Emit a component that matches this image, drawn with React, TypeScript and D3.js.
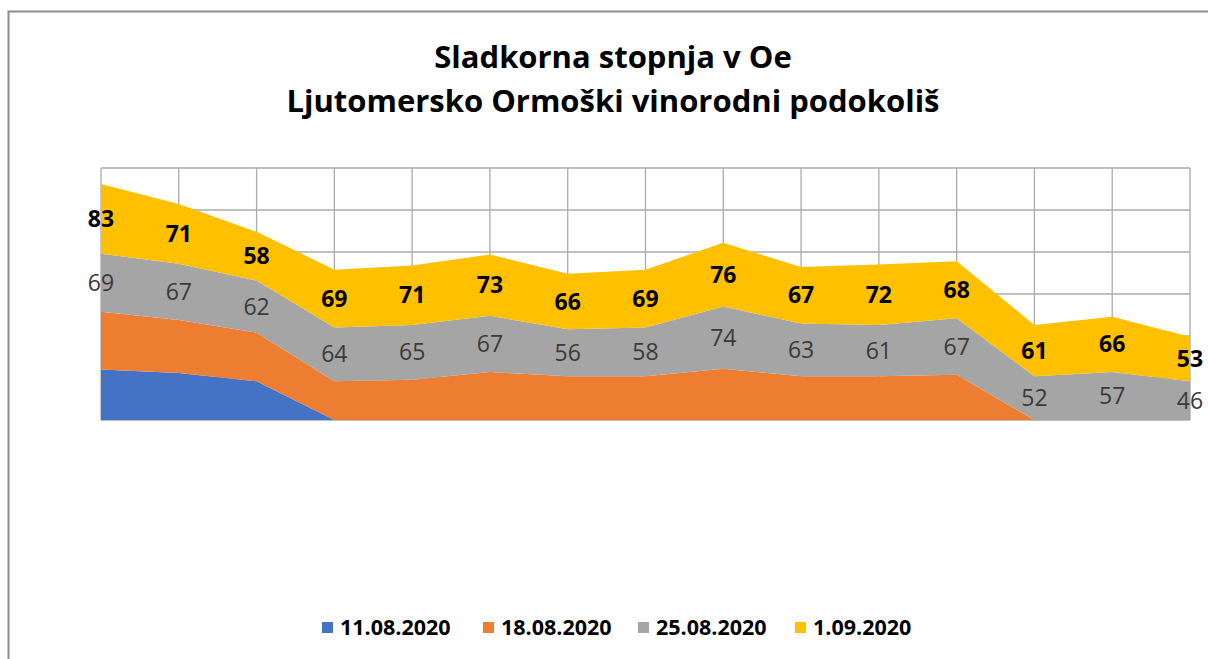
import React, { useEffect, useRef } from "react";
import * as d3 from "d3";

// sugar level (Oe) by sampling point, four sampling dates
const points = ["1", "2", "3", "4", "5", "6", "7", "8", "9", "10", "11", "12", "13", "14", "15"];
const seriesNames = ["11.08.2020", "18.08.2020", "25.08.2020", "1.09.2020"];
const s1108 = [60, 56, 46, 0, 0, 0, 0, 0, 0, 0, 0, 0, 0, 0, 0];
const s1808 = [69, 63, 58, 46, 48, 57, 52, 52, 61, 52, 52, 54, 0, 0, 0];
const s2508 = [69, 67, 62, 64, 65, 67, 56, 58, 74, 63, 61, 67, 52, 57, 46];
const s0109 = [83, 71, 58, 69, 71, 73, 66, 69, 76, 67, 72, 68, 61, 66, 53];
const yTicks = [0, 50, 100, 150, 200, 250, 300];
const colors = ["#4472c4", "#ed7d31", "#a5a5a5", "#ffc000"];

export default function App() {
  const ref = useRef<SVGSVGElement>(null);

  useEffect(() => {
    const svg = d3.select(ref.current);
    svg.selectAll("*").remove();
    const font = "'Open Sans', 'Liberation Sans', sans-serif";

    const left = 101, right = 1190, top = 168, bottom = 420;

    // chart frame
    svg
      .append("path")
      .attr("d", "M8.5,700 V11.5 H1220")
      .attr("fill", "none")
      .attr("stroke", "#8c8c8c")
      .attr("stroke-width", 2);

    // title
    const title = svg
      .append("text")
      .attr("text-anchor", "middle")
      .attr("font-family", font)
      .attr("font-weight", "bold")
      .attr("font-size", 31)
      .attr("fill", "#000");
    title.append("tspan").attr("x", 613).attr("y", 68).text("Sladkorna stopnja v Oe");
    title.append("tspan").attr("x", 613).attr("y", 112).text("Ljutomersko Ormoški vinorodni podokoliš");

    const x = d3.scalePoint().domain(points).range([left, right]);
    const y = d3.scaleLinear().domain([0, 300]).range([bottom, top]);

    const rows = points.map((p, i) => ({
      p,
      [seriesNames[0]]: s1108[i],
      [seriesNames[1]]: s1808[i],
      [seriesNames[2]]: s2508[i],
      [seriesNames[3]]: s0109[i],
    }));
    const stacked = d3.stack<any>().keys(seriesNames)(rows);

    // grid
    const grid = svg.append("g").attr("stroke", "#ababab").attr("stroke-width", 1.3);
    yTicks.forEach((t) => {
      grid.append("line").attr("x1", left).attr("x2", right).attr("y1", y(t)).attr("y2", y(t));
    });
    points.forEach((p) => {
      grid.append("line").attr("x1", x(p)!).attr("x2", x(p)!).attr("y1", top).attr("y2", bottom);
    });

    const area = d3
      .area<any>()
      .x((d) => x(d.data.p)!)
      .y0((d) => y(d[0]))
      .y1((d) => y(d[1]));

    svg
      .append("g")
      .selectAll("path")
      .data(stacked)
      .enter()
      .append("path")
      .attr("d", (s) => area(s))
      .attr("fill", (_, i) => colors[i]);

    // data labels for the last two series
    const grayLayer = stacked[2];
    svg
      .append("g")
      .selectAll("text")
      .data(grayLayer)
      .enter()
      .append("text")
      .attr("x", (d) => x(d.data.p)!)
      .attr("y", (d) => y((d[0] + d[1]) / 2) + 8)
      .attr("text-anchor", "middle")
      .attr("font-family", font)
      .attr("font-size", 23)
      .attr("fill", "#3a3a3a")
      .text((d) => d[1] - d[0]);

    const yellowLayer = stacked[3];
    svg
      .append("g")
      .selectAll("text")
      .data(yellowLayer)
      .enter()
      .append("text")
      .attr("x", (d) => x(d.data.p)!)
      .attr("y", (d) => y((d[0] + d[1]) / 2) + 8)
      .attr("text-anchor", "middle")
      .attr("font-family", font)
      .attr("font-weight", "bold")
      .attr("font-size", 23)
      .attr("fill", "#000")
      .text((d) => d[1] - d[0]);

    // legend
    const legendX = [322, 483, 638, 795];
    const legend = svg
      .append("g")
      .selectAll("g")
      .data(seriesNames)
      .enter()
      .append("g")
      .attr("transform", (_, i) => `translate(${legendX[i]}, 628)`);
    legend
      .append("rect")
      .attr("x", 0)
      .attr("y", -6)
      .attr("width", 11)
      .attr("height", 11)
      .attr("fill", (_, i) => colors[i]);
    legend
      .append("text")
      .attr("x", 18)
      .attr("y", 7)
      .attr("font-family", font)
      .attr("font-weight", "bold")
      .attr("font-size", 21.5)
      .attr("fill", "#000")
      .text((d) => d);
  }, []);

  return (
    <svg
      ref={ref}
      width={1208}
      height={659}
      style={{ position: "absolute", left: 0, top: 0, background: "#fff" }}
    ></svg>
  );
}
